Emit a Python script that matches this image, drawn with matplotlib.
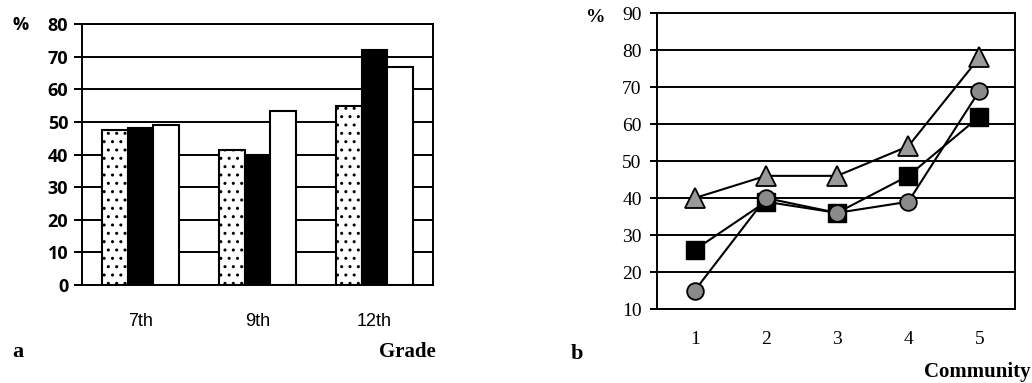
import matplotlib.pyplot as plt
import numpy as np

# panel a: % by grade
grades = ["7th", "9th", "12th"]
dotted_vals = [47.5, 41.5, 55]
black_vals = [48, 40, 72]
white_vals = [49, 53.5, 67]

# panel b: % by community
communities = [1, 2, 3, 4, 5]
triangle_vals = [40, 46, 46, 54, 78]
square_vals = [26, 39, 36, 46, 62]
circle_vals = [15, 40, 36, 39, 69]

plt.rcParams['hatch.linewidth'] = 1.0

fig = plt.figure(figsize=(10.32, 3.83), dpi=100)

# ---------- panel a ----------
ax1 = fig.add_axes([0.0795, 0.256, 0.340, 0.681])
x = np.arange(len(grades))
w = 0.22
ax1.bar(x - w, dotted_vals, w, color='white', edgecolor='black', hatch='..', linewidth=1.5, zorder=3)
ax1.bar(x, black_vals, w, color='black', edgecolor='black', linewidth=1.5, zorder=3)
ax1.bar(x + w, white_vals, w, color='white', edgecolor='black', linewidth=1.5, zorder=3)
ax1.set_xlim(-0.5, 2.5)
ax1.set_ylim(0, 80)
ax1.set_yticks(range(0, 81, 10))
ax1.yaxis.grid(True, color='black', linewidth=1.4, zorder=0)
ax1.set_axisbelow(True)
ax1.set_xticks(x)
ax1.set_xticklabels(grades, fontsize=13, family='Liberation Sans')
ax1.tick_params(axis='x', length=0, pad=20)
ax1.tick_params(axis='y', length=6, width=1.4, pad=4)
for lab in ax1.get_yticklabels():
    lab.set_fontfamily('Open Sans')
    lab.set_fontweight('bold')
    lab.set_fontsize(13)
for s in ax1.spines.values():
    s.set_linewidth(1.4)
fig.text(0.012, 0.935, "%", fontsize=13, fontweight='bold', family='Open Sans', va='center')
fig.text(0.012, 0.08, "a", fontsize=16, fontweight='bold', family='Liberation Serif', va='center')
fig.text(0.422, 0.08, "Grade", fontsize=15, fontweight='bold', family='Liberation Serif',
         va='center', ha='right')

# ---------- panel b ----------
ax2 = fig.add_axes([0.6366, 0.193, 0.347, 0.773])
ax2.plot(communities, triangle_vals, color='black', linewidth=1.5, marker='^', markersize=15,
         markerfacecolor='#9a9a9a', markeredgecolor='black', markeredgewidth=1.3, zorder=3)
ax2.plot(communities, square_vals, color='black', linewidth=1.5, marker='s', markersize=13,
         markerfacecolor='black', markeredgecolor='black', zorder=4)
ax2.plot(communities, circle_vals, color='black', linewidth=1.5, marker='o', markersize=12,
         markerfacecolor='#8a8a8a', markeredgecolor='black', markeredgewidth=1.3, zorder=5)
ax2.set_xlim(0.47, 5.5)
ax2.set_ylim(10, 90)
ax2.set_yticks(range(10, 91, 10))
ax2.yaxis.grid(True, color='black', linewidth=1.4, zorder=0)
ax2.set_axisbelow(True)
ax2.set_xticks(communities)
ax2.tick_params(axis='x', length=0, pad=16)
ax2.tick_params(axis='y', length=5, width=1.4, pad=6)
for lab in ax2.get_xticklabels() + ax2.get_yticklabels():
    lab.set_fontfamily('Liberation Serif')
    lab.set_fontsize(14)
for s in ax2.spines.values():
    s.set_linewidth(1.4)
fig.text(0.568, 0.955, "%", fontsize=14, fontweight='bold', family='Liberation Serif', va='center')
fig.text(0.553, 0.075, "b", fontsize=16, fontweight='bold', family='Liberation Serif', va='center')
fig.text(0.999, 0.03, "Community", fontsize=15, fontweight='bold', family='Liberation Serif',
         va='center', ha='right')

fig.savefig("out.png", dpi=100)
